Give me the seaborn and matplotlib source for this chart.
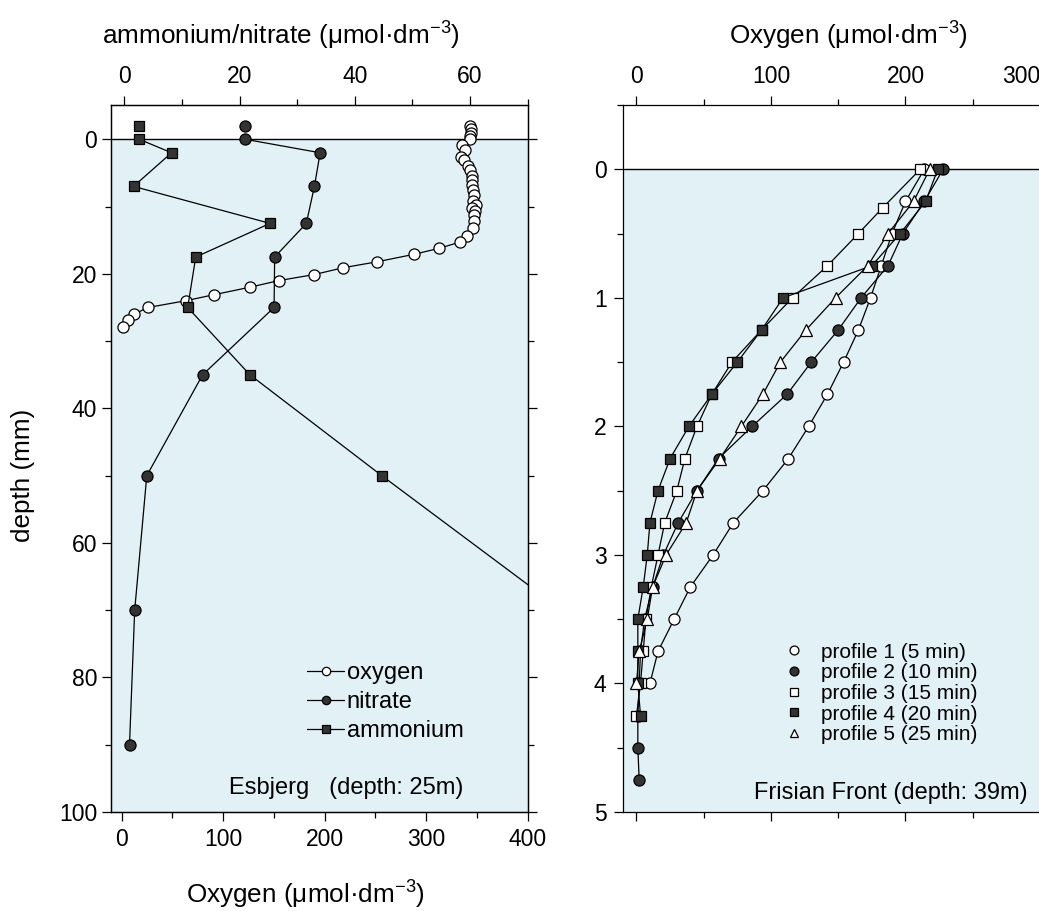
import numpy as np
import pandas as pd
import matplotlib
matplotlib.use("Agg")
import matplotlib.pyplot as plt
from matplotlib.lines import Line2D
from matplotlib.ticker import MultipleLocator
import seaborn as sns

# ---------------- data: Esbjerg (left panel) ----------------
oxy_depth = [-2, -1.5, -1, -0.5, 0, 0.9, 1.6, 2.6, 3.1, 3.9, 4.6, 5.4, 6.1, 6.8, 7.6,
             8.3, 9.1, 9.7, 10.2, 10.6, 11.3, 12.1, 13.2, 14.3, 15.3, 16.2, 17.1, 18.2,
             19.1, 20.1, 21.0, 22.0, 23.1, 24.0, 25.0, 26.0, 26.9, 27.9]
oxy_val = [343, 344, 344, 343, 343, 335, 338, 334, 337, 341, 343, 345, 345, 345, 346,
           347, 346, 349, 345, 348, 347, 347, 346, 340, 333, 313, 288, 252,
           218, 190, 155, 126, 91, 63, 26, 12, 6, 1]

nitrate_water_depth = [-2]
nitrate_water_val = [21.0]
nitrate_depth = [0, 2, 7, 12.5, 17.5, 25, 35, 50, 70, 90]
nitrate_val = [21.0, 34.0, 33.0, 31.6, 26.1, 26.0, 13.6, 3.9, 1.8, 0.9]

ammonium_water_depth = [-2]
ammonium_water_val = [2.6]
ammonium_depth = [0, 2, 7, 12.5, 17.5, 25, 35, 50, 70]
ammonium_val = [2.6, 8.2, 1.6, 25.3, 12.4, 11.0, 21.8, 44.7, 76]

# ---------------- data: Frisian Front (right panel) ----------------
p1_depth = [0, 0.25, 0.5, 0.75, 1.0, 1.25, 1.5, 1.75, 2.0, 2.25, 2.5, 2.75, 3.0, 3.25, 3.5, 3.75, 4.0]
p1_oxy = [214, 200, 190, 182, 174, 165, 154, 142, 128, 113, 94, 72, 57, 40, 28, 16, 10]
p2_depth = [0, 0.25, 0.5, 0.75, 1.0, 1.25, 1.5, 1.75, 2.0, 2.25, 2.5, 2.75, 3.0, 3.25, 3.5,
            3.75, 4.0, 4.25, 4.5, 4.75]
p2_oxy = [228, 214, 198, 187, 167, 150, 130, 112, 86, 61, 45, 31, 20, 12, 6, 3, 2, 1, 1, 2]
p3_depth = [0, 0.3, 0.5, 0.75, 1.0, 1.25, 1.5, 1.75, 2.0, 2.25, 2.5, 2.75, 3.0, 3.25, 3.5,
            3.75, 4.0, 4.25]
p3_oxy = [211, 183, 165, 142, 116, 93, 71, 56, 45, 36, 30, 21, 16, 11, 7, 5, 3, 0]
p4_depth = [0, 0.25, 0.5, 0.75, 1.0, 1.25, 1.5, 1.75, 2.0, 2.25, 2.5, 2.75, 3.0, 3.25, 3.5,
            3.75, 4.0, 4.25]
p4_oxy = [224, 215, 196, 175, 109, 93, 75, 56, 39, 25, 16, 10, 8, 5, 1, 1, 1, 3]
p5_depth = [0, 0.25, 0.5, 0.75, 1.0, 1.25, 1.5, 1.75, 2.0, 2.25, 2.5, 2.75, 3.0, 3.25, 3.5, 3.75, 4.0]
p5_oxy = [218, 206, 187, 172, 148, 126, 107, 94, 78, 62, 45, 37, 22, 12, 8, 2, 0]

profile_labels = ["profile 1 (5 min)", "profile 2 (10 min)", "profile 3 (15 min)",
                  "profile 4 (20 min)", "profile 5 (25 min)"]

# ---------------- style ----------------
sns.set_style("ticks")
plt.rcParams["font.family"] = ["Liberation Sans", "DejaVu Sans"]
plt.rcParams["mathtext.fontset"] = "custom"
plt.rcParams["mathtext.rm"] = "Liberation Sans"
plt.rcParams["mathtext.it"] = "Liberation Sans:italic"
plt.rcParams["mathtext.bf"] = "Liberation Sans:bold"
for key in ("text.color", "axes.labelcolor", "xtick.color", "ytick.color",
            "xtick.labelcolor", "ytick.labelcolor", "axes.edgecolor"):
    plt.rcParams[key] = "black"

SHADE = "#e2f1f6"
DARK = "#333333"
TICK_FS = 16.5
LABEL_FS = 18.8

W, H = 1039, 911
fig = plt.figure(figsize=(W / 100, H / 100), dpi=100)


def rect(x0, x1, y0, y1):
    return [x0 / W, 1 - y1 / H, (x1 - x0) / W, (y1 - y0) / H]


axL = fig.add_axes(rect(110.5, 527.5, 105, 812))
axR = fig.add_axes(rect(622.5, 1040, 105, 812))


def style_ticks(ax, axis, **kw):
    ax.tick_params(axis=axis, which="major", direction="out", length=6.5, width=0.9,
                   labelsize=TICK_FS, colors="k", **kw)
    ax.tick_params(axis=axis, which="minor", direction="out", length=4, width=0.9,
                   colors="k", **kw)


# ---------------- left panel ----------------
axL.set_xlim(-11, 400)
axL.set_ylim(100, -5.1)
axL.axhspan(0, 100, color=SHADE, zorder=0, lw=0)
axL.axhline(0, color="k", lw=1.0, zorder=1)

sns.lineplot(x=oxy_val, y=oxy_depth, ax=axL, sort=False, estimator=None, legend=False,
             color="k", lw=0.9, marker="o", markersize=8, markerfacecolor="white",
             markeredgecolor="k", markeredgewidth=0.9, label="oxygen")

axT = axL.twiny()
axT.set_xlim(-2.4, 70)

sns.lineplot(x=nitrate_val, y=nitrate_depth, ax=axT, sort=False, estimator=None,
             legend=False, color="k", lw=0.9, marker="o", markersize=8,
             markerfacecolor=DARK, markeredgecolor="k", markeredgewidth=0.9,
             label="nitrate")
sns.lineplot(x=ammonium_val, y=ammonium_depth, ax=axT, sort=False, estimator=None,
             legend=False, color="k", lw=0.9, marker="s", markersize=7,
             markerfacecolor=DARK, markeredgecolor="k", markeredgewidth=0.9,
             label="ammonium")
sns.scatterplot(x=nitrate_water_val, y=nitrate_water_depth, ax=axT, marker="o", s=64,
                color=DARK, edgecolor="k", linewidth=0.9, legend=False)
sns.scatterplot(x=ammonium_water_val, y=ammonium_water_depth, ax=axT, marker="s", s=49,
                color=DARK, edgecolor="k", linewidth=0.9, legend=False)

axL.xaxis.set_major_locator(MultipleLocator(100))
axL.xaxis.set_minor_locator(MultipleLocator(50))
axL.yaxis.set_major_locator(MultipleLocator(20))
axL.yaxis.set_minor_locator(MultipleLocator(10))
axT.xaxis.set_major_locator(MultipleLocator(20))
axT.xaxis.set_minor_locator(MultipleLocator(10))
style_ticks(axL, "x", bottom=True, top=False, pad=5)
style_ticks(axL, "y", left=True, right=True, labelleft=True, labelright=False, pad=3)
style_ticks(axT, "x", top=True, bottom=False, labeltop=True, labelbottom=False, pad=6)
axT.set_ylim(100, -5.1)

for ax in (axL, axT):
    for s in ax.spines.values():
        s.set_linewidth(0.9)
        s.set_color("k")

axL.set_xlabel("Oxygen (μmol·dm$^{-3}$)", fontsize=LABEL_FS)
axL.set_ylabel("depth (mm)", fontsize=LABEL_FS)
axT.set_xlabel("ammonium/nitrate (μmol·dm$^{-3}$)", fontsize=LABEL_FS)
axL.xaxis.set_label_coords(0.4664, -0.1174)
axL.xaxis.label.set_va("center")
axL.yaxis.set_label_coords(-0.2098, 0.476)
axL.yaxis.label.set_va("center")
axT.xaxis.set_label_coords(0.4100, 1.0976)
axT.xaxis.label.set_va("center")

hL = [l for l in axL.get_lines() if l.get_label() == "oxygen"]
hT = [l for l in axT.get_lines() if l.get_label() in ("nitrate", "ammonium")]
axT.legend(hL + hT, ["oxygen", "nitrate", "ammonium"], loc="upper left",
           bbox_to_anchor=(0.4705, 0.2115), frameon=False, fontsize=17,
           handlelength=1.6, handletextpad=0.1, labelspacing=0.285, borderpad=0,
           borderaxespad=0, markerscale=0.75)

axT.text(0.8453, 0.034, "Esbjerg   (depth: 25m)", transform=axT.transAxes,
         ha="right", va="center", fontsize=17)

# ---------------- right panel ----------------
axR.set_xlim(-10.4, 300)
axR.set_ylim(5, -0.5)
axR.axhspan(0, 5, color=SHADE, zorder=0, lw=0)
axR.axhline(0, color="k", lw=1.0, zorder=1)

profiles = [
    (p1_oxy, p1_depth, "o", "white", 8),
    (p2_oxy, p2_depth, "o", DARK, 8),
    (p3_oxy, p3_depth, "s", "white", 7),
    (p4_oxy, p4_depth, "s", DARK, 7),
    (p5_oxy, p5_depth, "^", "white", 8),
]
for (xv, yv, mk, fc, ms), lab in zip(profiles, profile_labels):
    sns.lineplot(x=xv, y=yv, ax=axR, sort=False, estimator=None, legend=False,
                 color="k", lw=0.9, marker=mk, markersize=ms, markerfacecolor=fc,
                 markeredgecolor="k", markeredgewidth=0.9)

axR.xaxis.set_major_locator(MultipleLocator(100))
axR.xaxis.set_minor_locator(MultipleLocator(50))
axR.yaxis.set_major_locator(MultipleLocator(1))
axR.yaxis.set_minor_locator(MultipleLocator(0.5))
style_ticks(axR, "x", top=True, bottom=True, labeltop=True, labelbottom=False, pad=6)
style_ticks(axR, "y", left=True, right=True, labelleft=True, labelright=False, pad=5)
for s in axR.spines.values():
    s.set_linewidth(0.9)
    s.set_color("k")
axR.xaxis.set_label_position("top")
axR.set_xlabel("Oxygen (μmol·dm$^{-3}$)", fontsize=LABEL_FS)
axR.xaxis.set_label_coords(0.5401, 1.0976)
axR.xaxis.label.set_va("center")
axR.set_ylabel("")

leg_handles = [Line2D([], [], ls="none", marker=mk, markersize=ms * 0.8,
                      markerfacecolor=fc, markeredgecolor="k", markeredgewidth=0.9)
               for (_, _, mk, fc, ms) in profiles]
axR.legend(leg_handles, profile_labels, loc="upper left", bbox_to_anchor=(0.386, 0.2395),
           frameon=False, fontsize=15, handlelength=1.0, handletextpad=0.8,
           labelspacing=0.08, borderpad=0, borderaxespad=0)

axR.text(0.9713, 0.0269, "Frisian Front (depth: 39m)", transform=axR.transAxes,
         ha="right", va="center", fontsize=17)

fig.canvas.draw()
for lbl in axR.get_xticklabels():
    if lbl.get_text() == "300":
        lbl.set_horizontalalignment("right")

fig.savefig("out.png", dpi=100)
